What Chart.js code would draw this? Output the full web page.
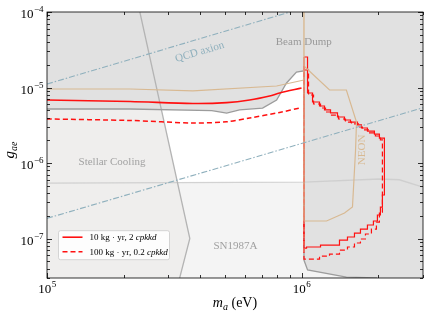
<!DOCTYPE html>
<html lang="en">
  <head>
    <meta charset="UTF-8" />
    <title>g_ae sensitivity</title>
    <script src="https://cdn.jsdelivr.net/npm/chart.js@4"></script>
    <style>
      html, body { margin: 0; padding: 0; background: #fff; }
    </style>
  </head>
  <body>
    <canvas id="gaeChart" width="429" height="318"></canvas>
    <script>
      // axis ticks
      const xTicks = [1e5, 1e6];
      const xTickExp = ["5", "6"];
      const yTicks = [1e-4, 1e-5, 1e-6, 1e-7];
      const yTickExp = ["\u22124", "\u22125", "\u22126", "\u22127"];

      // excluded regions (m_a in eV, g_ae)
      const stellarFillM = [1e5, 2.12e5, 2.81e5, 3.64e5, 3.32e5, 1e5];
      const stellarFillG = [5.19e-6, 5.19e-6, 5.1e-6, 1.0e-7, 3.0e-8, 3.0e-8];
      const openFillM = [2.81e5, 4.44e5, 5.08e5, 5.71e5, 7.03e5, 7.98e5, 8.73e5, 9.55e5, 1.022e6, 1.022e6, 3.26e5];
      const openFillG = [5.1e-6, 4.95e-6, 4.59e-6, 5.04e-6, 5.34e-6, 6.82e-6, 1.148e-5, 1.6e-5, 1.66e-5, 5.43e-7, 5.43e-7];
      const snFillM = [3.26e5, 1.022e6, 1.022e6, 1.056e6, 1.5e6, 1.98e6, 3.32e5, 3.64e5];
      const snFillG = [5.43e-7, 5.43e-7, 5.19e-8, 3.83e-8, 3.09e-8, 3.0e-8, 3.0e-8, 1.0e-7];

      // boundary lines
      const snLineM = [1e5, 1.022e6, 2.02e6, 2.42e6, 3e6];
      const snLineG = [5.43e-7, 5.6e-7, 6.14e-7, 6.0e-7, 4.8e-7];
      const stellarEdgeM = [2.316e5, 3.64e5, 3.32e5];
      const stellarEdgeG = [1e-4, 1.0e-7, 3.0e-8];
      const greyBoundM = [1e5, 2.12e5, 4.44e5, 5.08e5, 5.71e5, 7.03e5, 7.98e5, 8.73e5, 9.55e5, 1.022e6, 1.022e6, 1.056e6, 1.5e6, 1.98e6];
      const greyBoundG = [5.19e-6, 5.19e-6, 4.95e-6, 4.59e-6, 5.04e-6, 5.34e-6, 6.82e-6, 1.148e-5, 1.6e-5, 1.66e-5, 5.19e-8, 3.83e-8, 3.09e-8, 3.0e-8];
      const tanLineM = [1e5, 2.12e5, 3.74e5, 7.98e5, 1.022e6];
      const tanLineG = [9.55e-6, 9.55e-6, 9.0e-6, 1.047e-5, 1.256e-5];
      const beamDumpM = [1.022e6, 1.022e6];
      const beamDumpG = [1e-4, 1.705e-7];
      const neonM = [1.022e6, 1.288e6, 1.5e6, 1.644e6, 1.63e6, 1.585e6, 1.475e6, 1.254e6, 1.022e6];
      const neonG = [1.93e-5, 9.27e-6, 9.27e-6, 3.49e-6, 1.49e-6, 2.61e-7, 2.18e-7, 1.705e-7, 1.705e-7];
      const qcdHighM = [1e5, 9.0e5];
      const qcdHighG = [1.11e-5, 1e-4];
      const qcdLowM = [1e5, 3e6];
      const qcdLowG = [1.85e-7, 5.4e-6];

      // projected sensitivity
      const sens10M = [1e5, 2.12e5, 3.74e5, 5.08e5, 6.25e5, 7.49e5, 8.2e5, 1.0e6];
      const sens10G = [6.82e-6, 6.53e-6, 6.14e-6, 6.3e-6, 6.82e-6, 7.71e-6, 8.45e-6, 9.84e-6];
      const sens100M = [1e5, 2.12e5, 3.74e5, 5.08e5, 6.25e5, 8.2e5, 1.0e6];
      const sens100G = [3.83e-6, 3.66e-6, 3.39e-6, 3.52e-6, 3.95e-6, 4.67e-6, 5.43e-6];
      const edge100M = [1.022e6, 1.022e6];
      const edge100G = [1.93e-5, 6.0e-8];
      const loop10M = [1.022e6, 1.0557e6, 1.1045e6, 1.1765e6, 1.2309e6, 1.2995e6, 1.3842e6, 1.4746e6, 1.5567e6, 1.6583e6, 1.7192e6, 1.8149e6, 1.9332e6, 2.0225e6, 2.1159e6,
        2.0781e6, 2.0409e6, 1.9863e6, 1.9159e6, 1.8149e6, 1.7038e6, 1.6139e6, 1.5151e6, 1.4094e6, 1.1872e6, 1.0462e6, 1.022e6];
      const loop10G = [2.535e-5, 8.46e-6, 6.43e-6, 5.69e-6, 5.04e-6, 4.6e-6, 4.07e-6, 3.71e-6, 3.49e-6, 3.19e-6, 2.91e-6, 2.65e-6, 2.42e-6, 2.14e-6, 3.77e-7,
        2.61e-7, 2.05e-7, 1.705e-7, 1.51e-7, 1.335e-7, 1.18e-7, 1.047e-7, 9.55e-8, 8.2e-8, 7.72e-8, 7.48e-8, 2.535e-5];
      const loop100M = [1.022e6, 1.0653e6, 1.1145e6, 1.1872e6, 1.242e6, 1.3113e6, 1.3967e6, 1.488e6, 1.5708e6, 1.6734e6, 1.7348e6, 1.8314e6, 1.9508e6, 2.0409e6, 2.0781e6,
        2.0225e6, 1.9685e6, 1.8816e6, 1.7824e6, 1.7038e6, 1.6139e6, 1.5151e6, 1.4094e6, 1.2878e6, 1.1765e6, 1.0462e6, 1.022e6];
      const loop100G = [1.705e-5, 7.96e-6, 6.05e-6, 5.35e-6, 4.74e-6, 4.32e-6, 3.83e-6, 3.49e-6, 3.29e-6, 3.0e-6, 2.74e-6, 2.5e-6, 2.28e-6, 2.02e-6, 2.24e-7,
        1.65e-7, 1.335e-7, 1.147e-7, 9.85e-8, 8.72e-8, 7.72e-8, 7.04e-8, 6.23e-8, 5.86e-8, 5.35e-8, 5.35e-8, 1.705e-5];

      const legendLabels = [["10 kg \u00b7 yr, 2 ", "cpkkd"], ["100 kg \u00b7 yr, 0.2 ", "cpkkd"]];

      const SERIF = '"Liberation Serif", "DejaVu Serif", serif';
      const RED = "#ff1010";
      const TAN = "#d8b992";

      function pts(ms, gs) {
        return ms.map((m, i) => ({ x: m, y: gs[i] }));
      }

      function area(ms, gs, color) {
        return { data: pts(ms, gs), backgroundColor: color, borderWidth: 0, fill: "shape" };
      }

      function line(ms, gs, color, width, dash, extra) {
        return Object.assign(
          { data: pts(ms, gs), borderColor: color, borderWidth: width, borderDash: dash || [], fill: false },
          extra || {}
        );
      }

      const sens10 = line(sens10M, sens10G, RED, 1.6, [], { tension: 0.3 });
      const sens100 = line(sens100M, sens100G, RED, 1.5, [5, 3], { tension: 0.3 });

      // bottom to top
      const layers = [
        area(stellarFillM, stellarFillG, "#efeeed"),
        area(openFillM, openFillG, "#ffffff"),
        area(snFillM, snFillG, "#f4f4f4"),
        line(snLineM, snLineG, "rgba(205,205,205,0.9)", 1.3),
        line(stellarEdgeM, stellarEdgeG, "#b4b4b4", 1.3),
        line(greyBoundM, greyBoundG, "#9c9c9c", 1.3),
        line(loop100M, loop100G, RED, 1.2, [5, 3], { stepped: "before" }),
        line(loop10M, loop10G, RED, 1.2, [], { stepped: "before" }),
        line(tanLineM, tanLineG, TAN, 1.2),
        line(beamDumpM, beamDumpG, TAN, 1.4),
        line(neonM, neonG, TAN, 1.2),
        line(qcdHighM, qcdHighG, "#8fb0bd", 1.1, [6, 2, 1.5, 2]),
        line(qcdLowM, qcdLowG, "#8fb0bd", 1.1, [6, 2, 1.5, 2]),
        line(edge100M, edge100G, "rgba(238,125,105,0.85)", 1.4, [4, 3]),
        sens100,
        sens10,
      ];
      layers.forEach((d, i) => {
        d.order = layers.length - i;
        d.pointRadius = 0;
        d.showLine = true;
      });

      function drawPow(ctx, exp, x, y, align) {
        ctx.font = "13px " + SERIF;
        const w1 = ctx.measureText("10").width;
        ctx.font = "9px " + SERIF;
        const w2 = ctx.measureText(exp).width;
        const x0 = align === "right" ? x - w1 - w2 : x - (w1 + w2) / 2;
        ctx.textAlign = "left";
        ctx.textBaseline = "alphabetic";
        ctx.font = "13px " + SERIF;
        ctx.fillText("10", x0, y);
        ctx.font = "9px " + SERIF;
        ctx.fillText(exp, x0 + w1 + 0.5, y - 6);
      }

      function label(ctx, text, x, y, color, angle) {
        ctx.save();
        ctx.translate(x, y);
        ctx.rotate(angle || 0);
        ctx.font = "11px " + SERIF;
        ctx.fillStyle = color;
        ctx.textAlign = "center";
        ctx.textBaseline = "middle";
        ctx.fillText(text, 0, 0);
        ctx.restore();
      }

      const decor = {
        id: "decor",
        beforeDatasetsDraw(chart) {
          const { ctx, chartArea: a } = chart;
          ctx.save();
          ctx.fillStyle = "#e1e1e1";
          ctx.fillRect(a.left, a.top, a.right - a.left, a.bottom - a.top);
          ctx.restore();
        },
        afterDatasetsDraw(chart) {
          const { ctx, chartArea: a } = chart;
          const xs = chart.scales.x, ys = chart.scales.y;
          const X = (v) => xs.getPixelForValue(v), Y = (v) => ys.getPixelForValue(v);

          // region labels
          label(ctx, "Stellar Cooling", X(1.8e5), Y(1.03e-6), "#a2a2a2");
          label(ctx, "SN1987A", X(5.5e5), Y(7.96e-8), "#a0a0a0");
          label(ctx, "Beam Dump", X(1.02e6), Y(4.01e-5), "#999999");
          label(ctx, "QCD axion", X(3.98e5), Y(2.95e-5), "#8fb0bd", -Math.atan(75.5 / 255));
          label(ctx, "NEON", X(1.735e6), Y(1.49e-6), TAN, -Math.PI / 2);

          // frame and inward ticks on all sides
          ctx.save();
          ctx.strokeStyle = "#000";
          ctx.lineWidth = 0.8;
          ctx.strokeRect(a.left, a.top, a.right - a.left, a.bottom - a.top);
          ctx.beginPath();
          for (let d = 5; d <= 6; d++) {
            for (let k = 1; k <= 9; k++) {
              const v = k * Math.pow(10, d);
              if (v < xs.min || v > xs.max) continue;
              const px = Math.round(X(v)) + 0.5, len = k === 1 ? 5 : 3;
              ctx.moveTo(px, a.bottom); ctx.lineTo(px, a.bottom - len);
              ctx.moveTo(px, a.top); ctx.lineTo(px, a.top + len);
            }
          }
          for (let d = -8; d <= -4; d++) {
            for (let k = 1; k <= 9; k++) {
              const v = k * Math.pow(10, d);
              if (v < ys.min * 0.999 || v > ys.max * 1.001) continue;
              const py = Math.round(Y(v)) + 0.5, len = k === 1 ? 5 : 3;
              ctx.moveTo(a.left, py); ctx.lineTo(a.left + len, py);
              ctx.moveTo(a.right, py); ctx.lineTo(a.right - len, py);
            }
          }
          ctx.stroke();

          // tick labels
          ctx.fillStyle = "#000";
          xTicks.forEach((v, i) => drawPow(ctx, xTickExp[i], X(v), a.bottom + 15, "center"));
          yTicks.forEach((v, i) => drawPow(ctx, yTickExp[i], a.left - 4, Y(v) + 6, "right"));

          // axis titles
          ctx.font = "italic 14px " + SERIF;
          ctx.textAlign = "left";
          ctx.textBaseline = "alphabetic";
          const mw = ctx.measureText("m").width;
          ctx.font = "italic 10px " + SERIF;
          const aw = ctx.measureText("a").width;
          ctx.font = "14px " + SERIF;
          const ew = ctx.measureText(" (eV)").width;
          const tx = (a.left + a.right) / 2 - (mw + aw + ew) / 2;
          const ty = a.bottom + 29;
          ctx.font = "italic 14px " + SERIF;
          ctx.fillText("m", tx, ty);
          ctx.font = "italic 10px " + SERIF;
          ctx.fillText("a", tx + mw, ty + 3);
          ctx.font = "14px " + SERIF;
          ctx.fillText(" (eV)", tx + mw + aw, ty);

          ctx.save();
          ctx.translate(14, (a.top + a.bottom) / 2 + 6);
          ctx.rotate(-Math.PI / 2);
          ctx.font = "italic 15px " + SERIF;
          const gw = ctx.measureText("g").width;
          ctx.fillText("g", -gw, 0);
          ctx.font = "italic 10px " + SERIF;
          ctx.fillText("ae", 0, 3);
          ctx.restore();

          // legend
          const lx = a.left + 11.5, lyTop = Y(1.25e-7) - 0.5;
          ctx.fillStyle = "rgba(255,255,255,0.85)";
          ctx.strokeStyle = "#cccccc";
          ctx.lineWidth = 0.8;
          ctx.beginPath();
          ctx.roundRect(lx, lyTop, 111, 29, 2);
          ctx.fill();
          ctx.stroke();
          const legendSets = [sens10, sens100];
          legendLabels.forEach((parts, i) => {
            const yy = lyTop + 6.5 + i * 14.5;
            ctx.strokeStyle = legendSets[i].borderColor;
            ctx.lineWidth = 1.6;
            ctx.setLineDash(legendSets[i].borderDash);
            ctx.beginPath();
            ctx.moveTo(lx + 4, yy);
            ctx.lineTo(lx + 24, yy);
            ctx.stroke();
            ctx.setLineDash([]);
            ctx.fillStyle = "#000";
            ctx.font = "9px " + SERIF;
            ctx.textBaseline = "middle";
            const w0 = ctx.measureText(parts[0]).width;
            ctx.fillText(parts[0], lx + 31, yy + 0.5);
            ctx.font = "italic 9px " + SERIF;
            ctx.fillText(parts[1], lx + 31 + w0, yy + 0.5);
          });
          ctx.restore();
        },
      };

      new Chart(document.getElementById("gaeChart").getContext("2d"), {
        type: "line",
        data: { datasets: layers },
        options: {
          responsive: false,
          animation: false,
          devicePixelRatio: 1,
          layout: { padding: { top: 12, right: 6, left: 0, bottom: 0 } },
          elements: { line: { tension: 0 } },
          plugins: { legend: { display: false }, tooltip: { enabled: false } },
          scales: {
            x: {
              type: "logarithmic",
              min: 1e5,
              max: 3e6,
              grid: { display: false },
              border: { display: false },
              ticks: { display: false },
              afterFit: (s) => { s.height = 40; },
            },
            y: {
              type: "logarithmic",
              min: 3e-8,
              max: 1e-4,
              grid: { display: false },
              border: { display: false },
              ticks: { display: false },
              afterFit: (s) => { s.width = 47; },
            },
          },
        },
        plugins: [decor],
      });
    </script>
  </body>
</html>
